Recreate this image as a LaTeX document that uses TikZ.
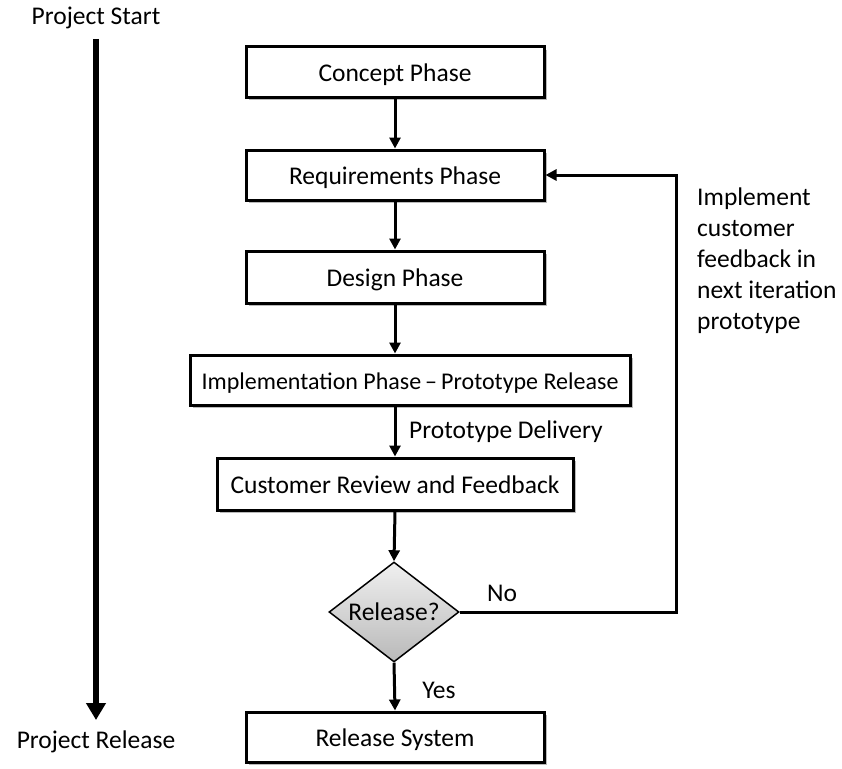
\documentclass[tikz,border=0pt]{standalone}
\usepackage{fontspec}
\setmainfont{Carlito}
\usetikzlibrary{arrows.meta,shapes.geometric,shadows,calc}

\tikzset{
  phase/.style={draw=black, line width=3pt, fill=white, minimum height=50pt,
    inner sep=0pt, text height=23pt, text depth=5pt, font=\fontsize{25.5}{30}\selectfont,
    drop shadow={shadow xshift=3pt, shadow yshift=-3pt, opacity=0.45, fill=black!60}},
  decision/.style={diamond, draw=black, line width=1.5pt, minimum width=130pt,
    minimum height=100pt, inner sep=0pt, aspect=1.3, top color=gray!12,
    bottom color=gray!55, font=\fontsize{25.5}{30}\selectfont},
  flow/.style={line width=3pt, -{Triangle[length=11pt,width=11pt]}},
  note/.style={font=\fontsize{25.5}{30}\selectfont, inner sep=0pt},
}

\begin{document}
\begin{tikzpicture}[x=1pt, y=-1pt]
  \useasboundingbox (0,0) rectangle (842,768);

  % timeline on the left
  \node[note] (start) at (96,18) {Project Start};
  \node[note] (finish) at (96,742) {Project Release};
  \coordinate (tltop) at (96,39);
  \coordinate (tlend) at (96,720);
  \draw[line width=6.5pt, -{Triangle[length=17pt,width=19pt]}] (tltop) -- (tlend);

  % phases
  \node[phase, minimum width=298pt] (concept) at (395,72) {Concept Phase};
  \node[phase, minimum width=298pt] (req) at (395,175) {Requirements Phase};
  \node[phase, minimum width=298pt, minimum height=52pt] (design) at (395,277) {Design Phase};
  \node[phase, minimum width=440pt, font=\fontsize{24}{28}\selectfont] (impl) at (410,380)
    {Implementation Phase\,--\,Prototype Release};
  \node[phase, minimum width=356pt, minimum height=52pt] (review) at (395,484) {Customer Review and Feedback};
  \node[decision] (decide) at (394,612) {Release?};
  \node[phase, minimum width=298pt] (release) at (395,737) {Release System};

  % connectors
  \draw[flow] (concept.south) -- (req.north);
  \draw[flow] (req.south) -- (design.north);
  \draw[flow] (design.south) -- (design.south |- impl.north);
  \draw[flow] (design.south |- impl.south) -- (review.north);
  \draw[flow] (review.south) -- (decide.north);
  \draw[flow] (decide.south) -- (release.north);
  \coordinate (loopdown) at (676,612);
  \coordinate (loopup) at (676,175);
  \draw[flow] (decide.east) -- (loopdown) -- (loopup) -- (req.east);

  % labels
  \node[note, anchor=west] (deliv) at (409,432) {Prototype Delivery};
  \node[note] (no) at (502,593) {No};
  \node[note] (yes) at (439,690) {Yes};
  \node[note, anchor=north west, align=left, font=\fontsize{25.5}{31}\selectfont] (fb) at (697,188)
    {Implement\\customer\\feedback in\\next iteration\\prototype};
\end{tikzpicture}
\end{document}
